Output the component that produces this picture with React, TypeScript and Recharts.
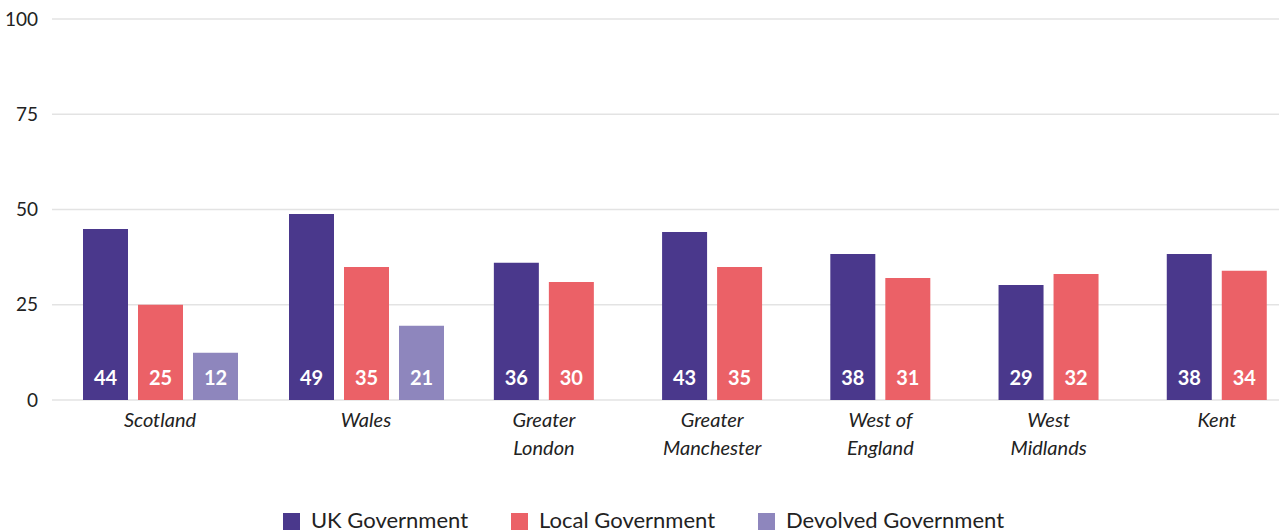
import React from 'react';
import { BarChart, Bar, XAxis, YAxis, CartesianGrid, Legend, LabelList, Text } from 'recharts';

const regions = ['Scotland', 'Wales', 'Greater London', 'Greater Manchester', 'West of England', 'West Midlands', 'Kent'];

// bar heights as drawn
const ukValues = [44.9, 48.8, 36, 44.1, 38.3, 30.2, 38.3];
const localValues = [25, 34.9, 31, 34.9, 32, 33.1, 33.9];
const devolvedValues: (number | null)[] = [12.4, 19.5, null, null, null, null, null];

// numbers printed inside the bars
const ukLabels = [44, 49, 36, 43, 38, 29, 38];
const localLabels = [25, 35, 30, 35, 31, 32, 34];
const devolvedLabels: (number | null)[] = [12, 21, null, null, null, null, null];

const yTicks = [0, 25, 50, 75, 100];

const seriesNames = ['UK Government', 'Local Government', 'Devolved Government'];
const UK_COLOR = '#4a388c';
const LOCAL_COLOR = '#eb6167';
const DEVOLVED_COLOR = '#8e86bd';

const FONT = 'Lato, "Open Sans", sans-serif';
const TEXT_COLOR = '#222';

// regions with a devolved bar sit on one x axis (wider bands), the rest on another
const data = regions.map((region, i) => {
  const three = devolvedValues[i] != null;
  return {
    region,
    three,
    ukThree: three ? ukValues[i] : null,
    ukThreeLabel: three ? ukLabels[i] : null,
    localThree: three ? localValues[i] : null,
    localThreeLabel: three ? localLabels[i] : null,
    devolved: devolvedValues[i],
    devolvedLabel: devolvedLabels[i],
    ukTwo: three ? null : ukValues[i],
    ukTwoLabel: three ? null : ukLabels[i],
    localTwo: three ? null : localValues[i],
    localTwoLabel: three ? null : localLabels[i],
  };
});

const tickStyle = { fontSize: 20, fontStyle: 'italic', fontFamily: FONT };

const RegionTick = ({ x, y, payload, index, threeGroup, shift }: any) => {
  const row = data[index] || data.find((d) => d.region === payload.value);
  if (!row || row.three !== threeGroup) return null;
  return (
    <Text
      x={x}
      y={y}
      dy={13 + shift}
      width={80}
      textAnchor="middle"
      verticalAnchor="start"
      lineHeight={27.5}
      fontSize={20.5}
      fontStyle="italic"
      fontFamily={FONT}
      style={tickStyle}
      fill={TEXT_COLOR}
    >
      {payload.value}
    </Text>
  );
};

const LegendContent = ({ payload }: any) => {
  const items = seriesNames
    .map((name) => (payload || []).find((p: any) => p.value === name && p.type !== 'none'))
    .filter(Boolean);
  return (
    <div
      style={{
        display: 'flex',
        justifyContent: 'center',
        gap: 43,
        fontFamily: FONT,
        fontSize: 22,
        color: TEXT_COLOR,
        transform: 'translateY(2px)',
      }}
    >
      {items.map((p: any) => (
        <div key={p.value} style={{ display: 'flex', alignItems: 'center' }}>
          <span
            style={{
              display: 'inline-block',
              width: 17,
              height: 17,
              background: p.color,
              marginRight: 11,
              position: 'relative',
              top: 2,
            }}
          />
          <span>{p.value}</span>
        </div>
      ))}
    </div>
  );
};

const labelStyle = { fill: '#fff', fontSize: 20, fontWeight: 700, fontFamily: FONT };

export default function App() {
  return (
    <div style={{ position: 'fixed', left: 0, top: 0, width: 1279, height: 531, overflow: 'hidden', background: '#fff' }}>
      <BarChart
        width={1500}
        height={531}
        data={data}
        margin={{ top: 19, right: 0, bottom: 0, left: 0 }}
        barSize={45}
        barGap={10}
      >
        <CartesianGrid xAxisId="two" vertical={false} stroke="#e3e3e3" strokeWidth={1.5} />
        <XAxis
          xAxisId="three"
          dataKey="region"
          interval={0}
          padding={{ left: 5, right: 1 }}
          axisLine={false}
          tickLine={false}
          tickSize={0}
          tickMargin={0}
          height={1}
          tick={<RegionTick threeGroup={true} shift={0} />}
        />
        <XAxis
          xAxisId="two"
          dataKey="region"
          interval={0}
          padding={{ left: 71.4, right: 199 }}
          axisLine={false}
          tickLine={false}
          tickSize={0}
          tickMargin={0}
          height={103}
          tick={<RegionTick threeGroup={false} shift={-1} />}
        />
        <YAxis
          width={52}
          domain={[0, 100]}
          ticks={yTicks}
          axisLine={false}
          tickLine={false}
          tickSize={0}
          tickMargin={14}
          tick={{ fontSize: 19, fill: TEXT_COLOR, fontFamily: FONT }}
        />
        <Legend
          verticalAlign="bottom"
          content={<LegendContent />}
          wrapperStyle={{ left: 0, width: 1287 }}
        />
        <Bar xAxisId="three" dataKey="ukThree" name={seriesNames[0]} fill={UK_COLOR} isAnimationActive={false}>
          <LabelList dataKey="ukThreeLabel" position="insideBottom" offset={15} {...labelStyle} />
        </Bar>
        <Bar xAxisId="three" dataKey="localThree" name={seriesNames[1]} fill={LOCAL_COLOR} isAnimationActive={false}>
          <LabelList dataKey="localThreeLabel" position="insideBottom" offset={15} {...labelStyle} />
        </Bar>
        <Bar xAxisId="three" dataKey="devolved" name={seriesNames[2]} fill={DEVOLVED_COLOR} isAnimationActive={false}>
          <LabelList dataKey="devolvedLabel" position="insideBottom" offset={15} {...labelStyle} />
        </Bar>
        <Bar xAxisId="two" dataKey="ukTwo" name={seriesNames[0]} fill={UK_COLOR} legendType="none" isAnimationActive={false}>
          <LabelList dataKey="ukTwoLabel" position="insideBottom" offset={15} {...labelStyle} />
        </Bar>
        <Bar xAxisId="two" dataKey="localTwo" name={seriesNames[1]} fill={LOCAL_COLOR} legendType="none" isAnimationActive={false}>
          <LabelList dataKey="localTwoLabel" position="insideBottom" offset={15} {...labelStyle} />
        </Bar>
      </BarChart>
    </div>
  );
}
